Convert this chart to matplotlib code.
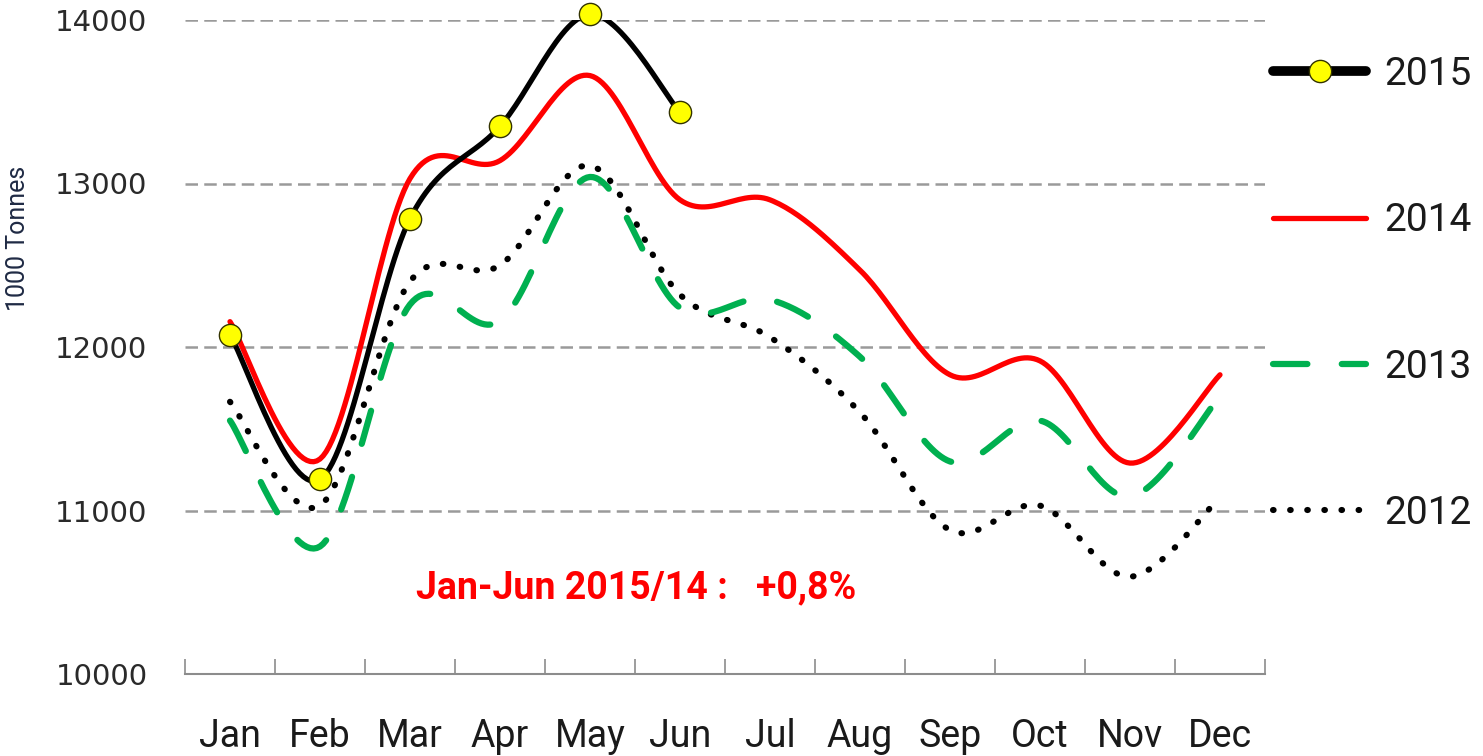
import numpy as np
import matplotlib
matplotlib.use("Agg")
import matplotlib.pyplot as plt
from matplotlib.ticker import FixedLocator

months = ["Jan", "Feb", "Mar", "Apr", "May", "Jun", "Jul", "Aug", "Sep", "Oct", "Nov", "Dec"]
y2015 = [12075, 11190, 12785, 13350, 14035, 13435]
y2014 = [12155, 11315, 13030, 13140, 13660, 12900, 12900, 12470, 11830, 11915, 11290, 11830]
y2013 = [11550, 10780, 12260, 12160, 13040, 12240, 12290, 11940, 11300, 11550, 11085, 11700]
y2012 = [11665, 11030, 12400, 12500, 13110, 12320, 12060, 11600, 10880, 11030, 10595, 11080]
yticks = [10000, 11000, 12000, 13000, 14000]
note = "Jan-Jun 2015/14 :   +0,8%"

NARROW = ["Liberation Sans Narrow", "Roboto", "DejaVu Sans"]


def smooth(x, y, n=30):
    """Excel-style smoothed line (Bezier through points)."""
    x = np.asarray(x, float)
    y = np.asarray(y, float)
    P = np.column_stack([x, y])
    Pe = np.vstack([P[0], P, P[-1]])
    out = []
    t = np.linspace(0, 1, n)[:, None]
    for i in range(len(P) - 1):
        p0 = Pe[i + 1]
        p3 = Pe[i + 2]
        c1 = p0 + (Pe[i + 2] - Pe[i]) / 6.0
        c2 = p3 - (Pe[i + 3] - Pe[i + 1]) / 6.0
        seg = ((1 - t) ** 3) * p0 + 3 * ((1 - t) ** 2) * t * c1 + 3 * (1 - t) * t ** 2 * c2 + t ** 3 * p3
        out.append(seg if i == 0 else seg[1:])
    S = np.vstack(out)
    return S[:, 0], S[:, 1]


fig = plt.figure(figsize=(14.83, 7.56), dpi=100)
ax = fig.add_axes([185 / 1483, 1 - 674 / 756, 1080 / 1483, 654 / 756])

x12 = np.arange(len(months))

# 2012 dotted
sx, sy = smooth(x12, y2012)
l12, = ax.plot(sx, sy, color="black", lw=4.4, linestyle=(0, (0.1, 2.7)),
               dash_capstyle="round", label="2012", zorder=3)
# 2013 dashed
sx, sy = smooth(x12, y2013)
l13, = ax.plot(sx, sy, color="#00b050", lw=4.5, linestyle=(0, (5.5, 5.5)),
               dash_capstyle="round", label="2013", zorder=3)
# 2014 solid red
sx, sy = smooth(x12, y2014)
l14, = ax.plot(sx, sy, color="#ff0000", lw=3.8, solid_capstyle="round", label="2014", zorder=4)
# 2015 black with markers
x6 = np.arange(len(y2015))
sx, sy = smooth(x6, y2015)
ax.plot(sx, sy, color="black", lw=3.8, solid_capstyle="round", zorder=5)
ax.plot(x6, y2015, linestyle="none", marker="o", ms=16, mfc="#ffff00", mec="#333300",
        mew=1.0, zorder=6, clip_on=False)
l15, = ax.plot([], [], color="black", lw=7, marker="o", ms=16, mfc="#ffff00",
               mec="#333300", mew=1.0, solid_capstyle="round", label="2015")

ax.set_xlim(-0.5, len(months) - 0.5)
ax.set_ylim(10000, 14000)

# grid
for v in yticks[1:]:
    ax.axhline(v, color="#9a9a9a", lw=1.8, linestyle=(0, (5, 2.5)), zorder=1)

for s in ["top", "right", "left"]:
    ax.spines[s].set_visible(False)
ax.spines["bottom"].set_color("#8c8c8c")
ax.spines["bottom"].set_linewidth(1.5)

ax.set_xticks(x12)
ax.set_xticklabels(months, family=NARROW, fontsize=27, color="#1a1a1a")
ax.xaxis.set_minor_locator(FixedLocator(np.arange(-0.5, len(months), 1.0)))
ax.tick_params(axis="x", which="major", length=0, pad=32)
ax.tick_params(axis="x", which="minor", direction="in", length=11, width=1.2, color="#8c8c8c")

ax.set_yticks(yticks)
ax.set_yticklabels([str(v) for v in yticks], family="DejaVu Sans", fontsize=21, color="#2a2a2a")
ax.tick_params(axis="y", length=0, pad=27)

fig.text(18 / 1483, 1 - 238 / 756, "1000 Tonnes", rotation=90, ha="center", va="center",
         family=NARROW, fontsize=18, color="#1f2a44")

ax.text(4.51, 10530, note, color="#ff0000", fontsize=27, fontweight="bold",
        family=NARROW, ha="center", va="center")

leg = ax.legend(handles=[l15, l14, l13, l12], loc="upper left",
                bbox_to_anchor=(1088 / 1080, 1.0 - 36 / 654), frameon=False,
                prop={"family": NARROW, "size": 28}, labelspacing=2.81,
                handlelength=2.4, handletextpad=0.45, borderaxespad=0, borderpad=0)
for t in leg.get_texts():
    t.set_color("#1a1a1a")

fig.savefig("out.png", dpi=100, facecolor="white")
